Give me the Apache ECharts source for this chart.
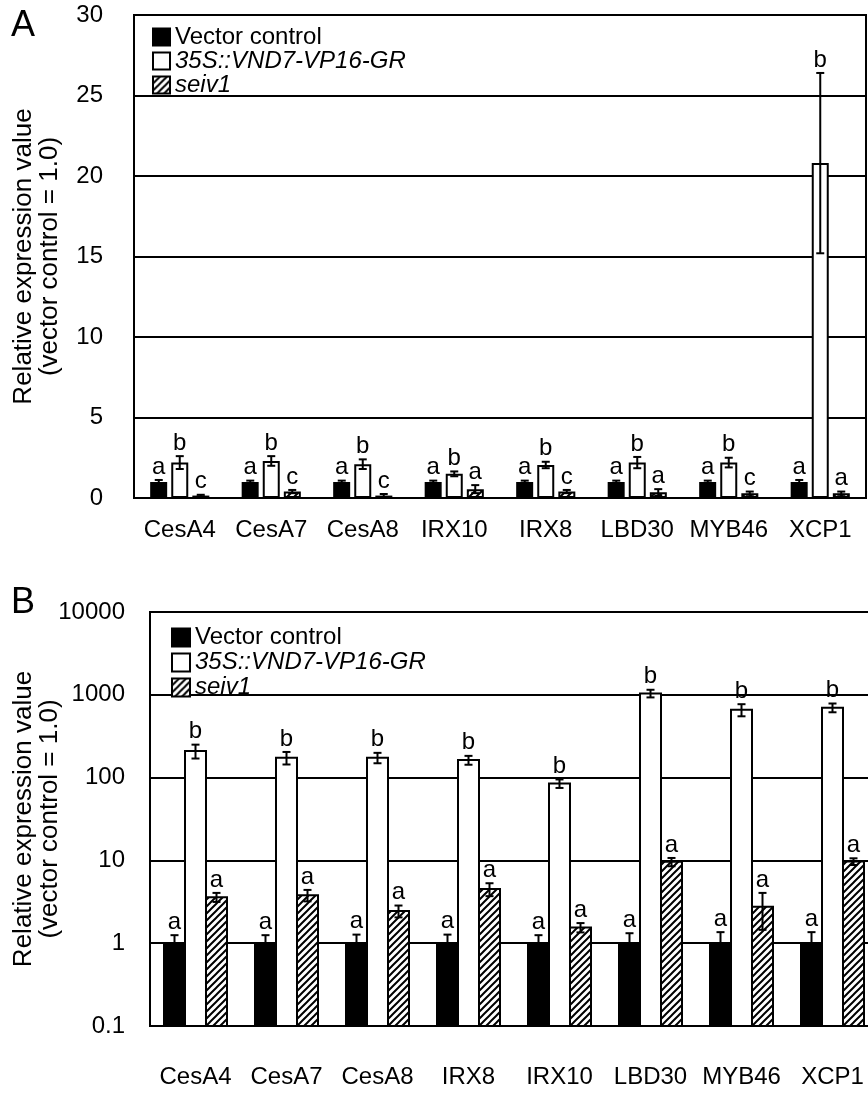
<!DOCTYPE html>
<html>
<head>
<meta charset="utf-8">
<script src="https://cdn.jsdelivr.net/npm/echarts@6/dist/echarts.min.js"></script>
<style>
  html, body { margin: 0; padding: 0; background: #fff; overflow: hidden; }
  #chart { width: 868px; height: 1099px; }
</style>
</head>
<body>
<div id="chart"></div>
<script>
var seriesNames = ['Vector control', '35S::VND7-VP16-GR', 'seiv1'];

// panel A (linear)
var catsA = ['CesA4', 'CesA7', 'CesA8', 'IRX10', 'IRX8', 'LBD30', 'MYB46', 'XCP1'];
var vecA = [1, 1, 1, 1, 1, 1, 1, 1];
var vecErrA = [0.12, 0.08, 0.08, 0.08, 0.08, 0.08, 0.08, 0.12];
var vndA = [2.2, 2.3, 2.1, 1.5, 2.05, 2.2, 2.2, 20.8];
var vndErrA = [0.4, 0.3, 0.3, 0.15, 0.2, 0.35, 0.3, 5.6];
var seivA = [0.15, 0.4, 0.15, 0.55, 0.4, 0.35, 0.3, 0.3];
var seivErrA = [0.05, 0.1, 0.1, 0.25, 0.1, 0.2, 0.1, 0.1];
var vecLetA = ['a', 'a', 'a', 'a', 'a', 'a', 'a', 'a'];
var vndLetA = ['b', 'b', 'b', 'b', 'b', 'b', 'b', 'b'];
var seivLetA = ['c', 'c', 'c', 'a', 'c', 'a', 'c', 'a'];

// panel B (log)
var catsB = ['CesA4', 'CesA7', 'CesA8', 'IRX8', 'IRX10', 'LBD30', 'MYB46', 'XCP1'];
var vecB = [1, 1, 1, 1, 1, 1, 1, 1];
var vecErrB = [0.25, 0.25, 0.27, 0.27, 0.25, 0.32, 0.36, 0.36];
var vndB = [210, 174, 174, 163, 85, 1040, 660, 700];
var vndErrB = [40, 30, 25, 20, 10, 110, 110, 85];
var seivB = [3.6, 3.8, 2.45, 4.5, 1.55, 9.6, 2.75, 9.7];
var seivErrB = [0.45, 0.6, 0.4, 0.8, 0.2, 1.1, 1.3, 0.9];
var vecLetB = ['a', 'a', 'a', 'a', 'a', 'a', 'a', 'a'];
var vndLetB = ['b', 'b', 'b', 'b', 'b', 'b', 'b', 'b'];
var seivLetB = ['a', 'a', 'a', 'a', 'a', 'a', 'a', 'a'];

var FONT = '"Liberation Sans", Arial, Helvetica, sans-serif';
var LOG_MIN = 0.1;

function hatch() {
    var c = document.createElement('canvas');
    c.width = c.height = 7;
    var ctx = c.getContext('2d');
    ctx.fillStyle = '#fff';
    ctx.fillRect(0, 0, 7, 7);
    ctx.strokeStyle = '#000';
    ctx.lineWidth = 2;
    ctx.beginPath();
    ctx.moveTo(-1, 8); ctx.lineTo(8, -1);
    ctx.moveTo(-1, 1); ctx.lineTo(1, -1);
    ctx.moveTo(6, 8); ctx.lineTo(8, 6);
    ctx.stroke();
    return c;
}
var hatchFill = { image: hatch(), repeat: 'repeat' };
var fills = ['#000', '#fff', hatchFill];

function errSeries(idx, vals, errs, lets, offset) {
    return {
        type: 'custom',
        xAxisIndex: idx, yAxisIndex: idx,
        z: 5,
        data: vals.map(function (v, i) { return [i, v, errs[i]]; }),
        renderItem: function (params, api) {
            var i = api.value(0), v = api.value(1), e = api.value(2);
            var hi = api.coord([i, v + e]);
            var lo = api.coord([i, v - e]);
            var x = hi[0] + offset;
            var cap = 4;
            return {
                type: 'group',
                children: [
                    { type: 'line', shape: { x1: x, y1: hi[1], x2: x, y2: lo[1] }, style: { stroke: '#000', lineWidth: 2 } },
                    { type: 'line', shape: { x1: x - cap, y1: hi[1], x2: x + cap, y2: hi[1] }, style: { stroke: '#000', lineWidth: 2 } },
                    { type: 'line', shape: { x1: x - cap, y1: lo[1], x2: x + cap, y2: lo[1] }, style: { stroke: '#000', lineWidth: 2 } },
                    { type: 'text', x: x, y: hi[1] - 1, style: {
                        text: lets[i], fill: '#000', font: '24px ' + FONT,
                        textAlign: 'center', textVerticalAlign: 'bottom' } }
                ]
            };
        }
    };
}

function barSeries(k, vals) {
    return {
        type: 'bar', name: seriesNames[k],
        xAxisIndex: 0, yAxisIndex: 0,
        data: vals, barWidth: 17, barGap: '24%',
        itemStyle: { color: fills[k], borderColor: '#000', borderWidth: 2 },
        emphasis: { disabled: true }
    };
}

// log-axis bars: drawn from the axis minimum (0.1) instead of 1
function logBarSeries(k, vals, offset) {
    return {
        type: 'custom', name: seriesNames[k],
        xAxisIndex: 1, yAxisIndex: 1,
        itemStyle: { color: fills[k], borderColor: '#000', borderWidth: 2 },
        data: vals.map(function (v, i) { return [i, v]; }),
        renderItem: function (params, api) {
            var i = api.value(0);
            var top = api.coord([i, api.value(1)]);
            var base = api.coord([i, LOG_MIN]);
            return {
                type: 'rect',
                shape: { x: top[0] + offset - 10.5, y: top[1], width: 21, height: base[1] - top[1] },
                style: { fill: fills[k], stroke: '#000', lineWidth: 2 }
            };
        }
    };
}

var legendBase = {
    orient: 'vertical',
    data: seriesNames,
    itemGap: 0,
    icon: 'rect',
    selectedMode: false,
    formatter: function (n) { return n === 'Vector control' ? n : '{i|' + n + '}'; }
};

var axisText = { color: '#000', fontSize: 24, fontFamily: FONT };
var blackLine = { lineStyle: { color: '#000', width: 2 } };
var yName = 'Relative expression value\n(vector control = 1.0)';
var yNameStyle = { color: '#000', fontSize: 26, lineHeight: 26, fontFamily: FONT };

var option = {
    animation: false,
    textStyle: { fontFamily: FONT },
    grid: [
        { left: 134, top: 15, width: 732, height: 483, show: true, borderColor: '#000', borderWidth: 2,
          backgroundColor: 'transparent', outerBoundsMode: 'none' },
        { left: 150, top: 612, width: 728, height: 414, show: true, borderColor: '#000', borderWidth: 2,
          backgroundColor: 'transparent', outerBoundsMode: 'none' }
    ],
    legend: [
        Object.assign({}, legendBase, {
            left: 147, top: 20, itemWidth: 17, itemHeight: 17,
            textStyle: { fontSize: 24, color: '#000', lineHeight: 23.5, fontFamily: FONT,
                rich: { i: { fontStyle: 'italic', fontSize: 24, color: '#000', fontFamily: FONT } } }
        }),
        Object.assign({}, legendBase, {
            left: 166, top: 620, itemWidth: 18, itemHeight: 18,
            textStyle: { fontSize: 24, color: '#000', lineHeight: 25, fontFamily: FONT,
                rich: { i: { fontStyle: 'italic', fontSize: 24, color: '#000', fontFamily: FONT } } }
        })
    ],
    xAxis: [
        { type: 'category', gridIndex: 0, data: catsA, axisTick: { show: false }, axisLine: blackLine,
          axisLabel: Object.assign({ margin: 20, interval: 0 }, axisText) },
        { type: 'category', gridIndex: 1, data: catsB, axisTick: { show: false }, axisLine: blackLine,
          axisLabel: Object.assign({ margin: 39, interval: 0 }, axisText) }
    ],
    yAxis: [
        { type: 'value', gridIndex: 0, min: 0, max: 30, interval: 5,
          axisLine: { show: true, lineStyle: { color: '#000', width: 2 } }, axisTick: { show: false },
          splitLine: blackLine,
          axisLabel: Object.assign({ margin: 31 }, axisText),
          name: yName, nameLocation: 'middle', nameGap: 71, nameMoveOverlap: false, nameTextStyle: yNameStyle },
        { type: 'log', gridIndex: 1, logBase: 10, min: LOG_MIN, max: 10000,
          axisLine: { show: true, lineStyle: { color: '#000', width: 2 } }, axisTick: { show: false },
          splitLine: blackLine, minorSplitLine: { show: false },
          axisLabel: Object.assign({ margin: 25, formatter: function (v) { return String(+(+v).toPrecision(6)); } }, axisText),
          name: yName, nameLocation: 'middle', nameGap: 87, nameMoveOverlap: false, nameTextStyle: yNameStyle }
    ],
    graphic: [
        { type: 'text', left: 11, top: 8, style: { text: 'A', font: '36px ' + FONT, fill: '#000' } },
        { type: 'text', left: 11, top: 585, style: { text: 'B', font: '36px ' + FONT, fill: '#000' } }
    ],
    series: [
        barSeries(0, vecA),
        barSeries(1, vndA),
        barSeries(2, seivA),
        errSeries(0, vecA, vecErrA, vecLetA, -21),
        errSeries(0, vndA, vndErrA, vndLetA, 0),
        errSeries(0, seivA, seivErrA, seivLetA, 21),
        logBarSeries(0, vecB, -21),
        logBarSeries(1, vndB, 0),
        logBarSeries(2, seivB, 21),
        errSeries(1, vecB, vecErrB, vecLetB, -21),
        errSeries(1, vndB, vndErrB, vndLetB, 0),
        errSeries(1, seivB, seivErrB, seivLetB, 21)
    ]
};

var myChart = echarts.init(document.getElementById('chart'), null, { renderer: 'canvas' });
myChart.setOption(option);
</script>
</body>
</html>
